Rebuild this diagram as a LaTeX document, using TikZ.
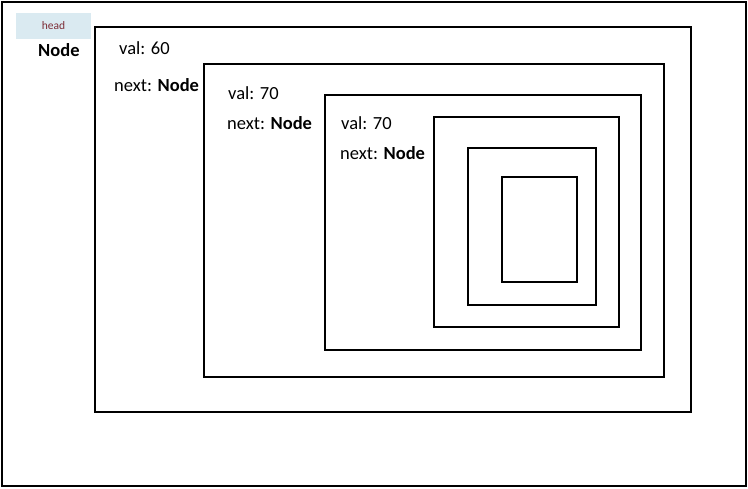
\documentclass[tikz,border=0pt]{standalone}
\usepackage{fontspec}
\setmainfont{Carlito}
\begin{document}
\begin{tikzpicture}[x=1pt,y=-1pt,
  box/.style={draw=black,line width=1.8pt},
  lbl/.style={anchor=west,inner sep=0pt,font=\fontsize{18.5}{20}\selectfont},
  headlbl/.style={fill=headfill,minimum width=75pt,minimum height=26pt,inner sep=0pt,text=headred,font=\fontsize{11.5}{13}\selectfont}]
\definecolor{headfill}{RGB}{218,234,241}
\definecolor{headred}{RGB}{125,45,55}
\useasboundingbox (0,0) rectangle (748,488);
\draw[box] (2,2) rectangle (746,486);
\node[headlbl] (head) at (53.5,26) {head};
\node[lbl] (hnode) at (38,50) {\textbf{Node}};
\draw[box] (95,27) rectangle (691,412);
\node[lbl] (v1) at (119,48) {val: 60};
\node[lbl] (n1) at (114,85) {next: \textbf{Node}};
\draw[box] (204,64) rectangle (664,377);
\node[lbl] (v2) at (228,93) {val: 70};
\node[lbl] (n2) at (227,123) {next: \textbf{Node}};
\draw[box] (325,95) rectangle (641,350);
\node[lbl] (v3) at (341,123) {val: 70};
\node[lbl] (n3) at (340,153) {next: \textbf{Node}};
\draw[box] (434,117) rectangle (619,327);
\draw[box] (468,148) rectangle (596,305);
\draw[box] (502,177) rectangle (577,282);
\end{tikzpicture}
\end{document}
